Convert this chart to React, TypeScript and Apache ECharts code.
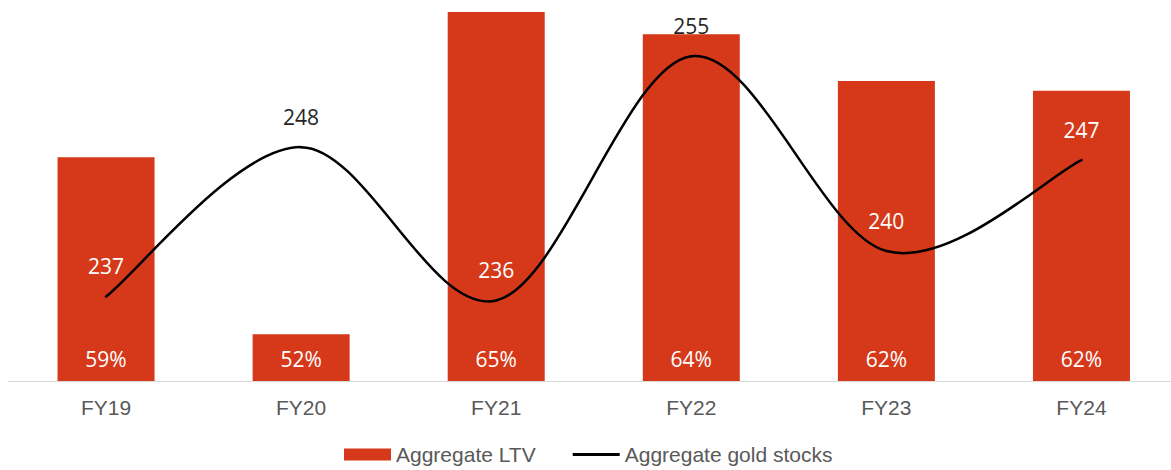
import React, { useEffect, useRef } from "react";
import * as echarts from "echarts";

const categories = ["FY19", "FY20", "FY21", "FY22", "FY23", "FY24"];
const aggregateLtv = [59.1, 51.9, 65.0, 64.1, 62.2, 61.8];
const goldStocks = [236.5, 248, 236.2, 255, 240, 247];
const seriesNames = ["Aggregate LTV", "Aggregate gold stocks"];

export default function App() {
  const ref = useRef<HTMLDivElement>(null);

  useEffect(() => {
    if (!ref.current) return;
    const chart = echarts.init(ref.current, undefined, { renderer: "svg" });
    const labelOnBar = [true, false, true, false, true, true];
    const barColor = "#d5391a";
    const n = goldStocks.length;

    const renderLine = (params: any, api: any) => {
      const i = params.dataIndex;
      const pt = (k: number) => api.coord([k, goldStocks[k]]);
      const p = pt(i);
      const children: any[] = [];
      if (i < n - 1) {
        const p0 = pt(Math.max(i - 1, 0));
        const p1 = p;
        const p2 = pt(i + 1);
        const p3 = pt(Math.min(i + 2, n - 1));
        children.push({
          type: "bezierCurve",
          z2: 1,
          shape: {
            x1: p1[0],
            y1: p1[1],
            x2: p2[0],
            y2: p2[1],
            cpx1: p1[0] + (p2[0] - p0[0]) / 6,
            cpy1: p1[1] + (p2[1] - p0[1]) / 6,
            cpx2: p2[0] - (p3[0] - p1[0]) / 6,
            cpy2: p2[1] - (p3[1] - p1[1]) / 6,
          },
          style: { stroke: "#000000", lineWidth: 2.5, fill: null, lineCap: "round" },
        });
      }
      children.push({
        type: "text",
        z2: 10,
        x: p[0],
        y: p[1] - 20,
        style: {
          text: String(Math.round(goldStocks[i])),
          fill: labelOnBar[i] ? "#ffffff" : "#262626",
          fontSize: 21,
          fontFamily: "Open Sans, sans-serif",
          align: "center",
          verticalAlign: "bottom",
        },
      });
      return { type: "group", children };
    };

    const option = {
      animation: false,
      backgroundColor: "#ffffff",
      grid: { left: 8.5, width: 1170.5, top: 12, height: 369, containLabel: false },
      legend: {
        data: [
          { name: seriesNames[0], icon: "rect" },
          { name: seriesNames[1], icon: "path://M0,0 H48 V3 H0 Z" },
        ],
        left: 344,
        top: 444,
        padding: 0,
        itemWidth: 47,
        itemHeight: 12,
        itemGap: 37,
        textStyle: { color: "#595959", fontSize: 21, fontFamily: "Liberation Sans, Arial, sans-serif" },
      },
      xAxis: {
        type: "category",
        data: categories,
        boundaryGap: true,
        axisLine: { show: true, onZero: false, lineStyle: { color: "#d9d9d9", width: 1 } },
        axisTick: { show: false },
        axisLabel: {
          color: "#595959",
          fontSize: 21,
          fontFamily: "Liberation Sans, Arial, sans-serif",
          margin: 16,
        },
      },
      yAxis: [
        { type: "value", min: 50, max: 65, show: false, splitLine: { show: false } },
        { type: "value", min: 230, max: 258.4, show: false, splitLine: { show: false } },
      ],
      series: [
        {
          name: seriesNames[0],
          type: "bar",
          yAxisIndex: 0,
          barWidth: 97,
          data: aggregateLtv,
          itemStyle: { color: barColor },
          label: {
            show: true,
            position: "insideBottom",
            distance: 12,
            color: "#ffffff",
            fontSize: 21,
            fontFamily: "Open Sans, sans-serif",
            formatter: (p: any) => Math.round(p.value) + "%",
          },
          z: 1,
        },
        {
          name: seriesNames[1],
          type: "custom",
          yAxisIndex: 1,
          data: goldStocks.map((v, i) => [i, v]),
          encode: { x: 0, y: 1 },
          itemStyle: { color: "#000000" },
          renderItem: renderLine,
          clip: false,
          z: 3,
        },
      ],
    };
    chart.setOption(option as any);
    return () => chart.dispose();
  }, []);

  return (
    <div
      style={{ position: "fixed", left: 0, top: 0, width: 1171, height: 470, overflow: "hidden", background: "#fff" }}
    >
      <div ref={ref} style={{ width: 1180, height: 470 }} />
    </div>
  );
}
